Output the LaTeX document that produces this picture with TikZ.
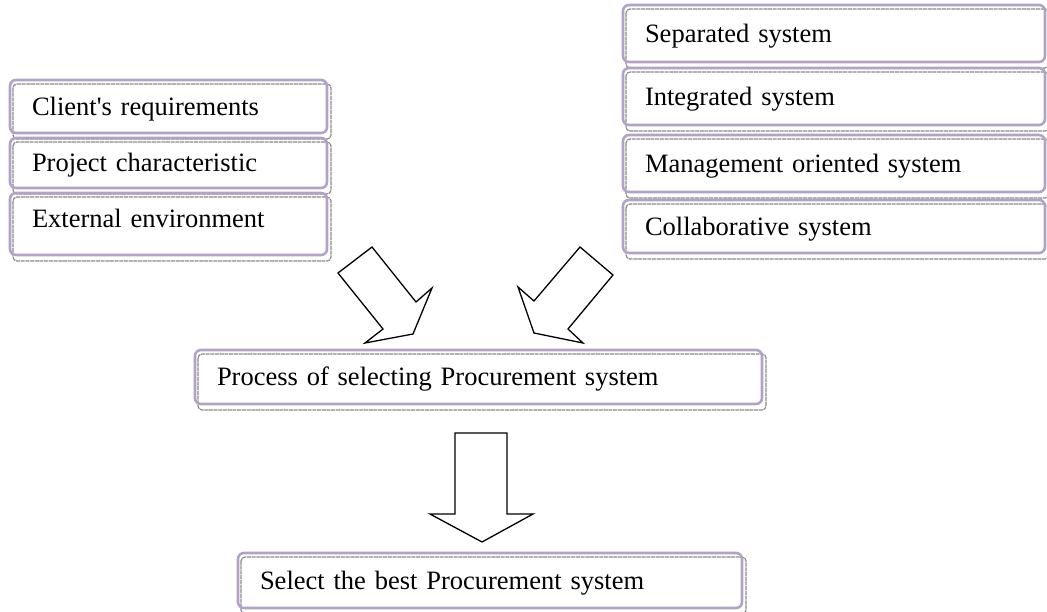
\documentclass[tikz,border=0pt]{standalone}
\usepackage{fontspec}
\setmainfont{Liberation Serif}
\definecolor{boxpurple}{HTML}{B3A2C7}
\definecolor{shadowgray}{HTML}{8A8A8A}
\newcommand\procbox[7]{%
  \pgfmathsetmacro\tw{#4-44}%
  \pgfmathsetmacro\td{1.06+#7}%
  \draw[shadowline] (#2+3,#3+4) rectangle (#2+#4+4,#3+#5+6);
  \node[pbox, minimum width=#4pt, minimum height=#5pt, text width=\tw pt, text depth=\td pt] (#1) at (#2,#3) {#6};%
}
\begin{document}
\begin{tikzpicture}[x=1pt,y=-1pt,
  pbox/.style={draw=boxpurple, line width=2.6pt, rounded corners=6pt, anchor=north west,
    inner xsep=22pt, inner ysep=0pt, outer sep=0pt, align=left,
    font=\fontsize{26.5}{30}\selectfont, text height=18.55pt},
  shadowline/.style={draw=shadowgray, line width=1.2pt, dash pattern=on 4pt off 0.7pt, rounded corners=4pt},
  blockarrow/.style={draw=black, line width=1.3pt, line join=miter, fill=white}]
\useasboundingbox (0,0) rectangle (1047,611);
% left group
\procbox{cr}{10}{80}{317}{53}{Client\textquotesingle s requirements}{0}
\procbox{pc}{10}{138}{317}{50}{Project characteristic}{0}
\procbox{ee}{10}{193}{317}{62}{External environment}{11}
% right group
\procbox{ss}{623}{5}{422}{57}{Separated system}{0}
\procbox{is}{623}{68}{422}{57}{Integrated system}{0}
\procbox{mo}{623}{135}{422}{57}{Management oriented system}{0}
\procbox{cs}{623}{200}{422}{53}{Collaborative system}{0}
% middle and bottom
\procbox{ps}{195}{350}{567}{54}{Process of selecting Procurement system}{0}
\procbox{sb}{238}{553}{504}{55}{Select the best Procurement system}{0}
% block arrows
\draw[blockarrow] (338,273) -- (372,247) -- (416,302) -- (432,288) -- (413,334) -- (365,343) -- (383,329) -- cycle;
\draw[blockarrow] (580,247) -- (613,275) -- (568,329) -- (583,343) -- (534,333) -- (518,287) -- (534,301) -- cycle;
\draw[blockarrow] (455,433) -- (507,433) -- (507,514) -- (533,514) -- (482,542) -- (430,514) -- (455,514) -- cycle;
\end{tikzpicture}
\end{document}
